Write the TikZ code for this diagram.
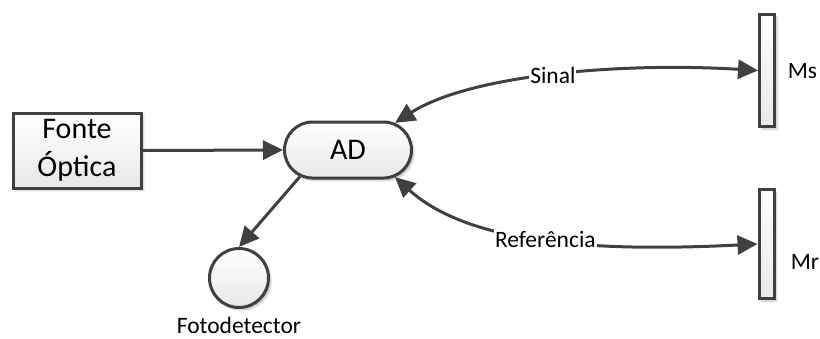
\documentclass[tikz,border=0pt]{standalone}
\usepackage{fontspec}
\setmainfont{Carlito}
\usetikzlibrary{arrows.meta,shapes.misc,shadows.blur}
\begin{document}
\begin{tikzpicture}[x=1pt,y=-1pt,
  line width=3pt,
  ink/.style={draw=black!75},
  box/.style={ink, top color=white, bottom color=black!9,
    blur shadow={shadow xshift=2.5pt,shadow yshift=-2.5pt,shadow blur steps=4,shadow opacity=25}},
  bigtext/.style={font=\fontsize{30}{38}\selectfont},
  smalltext/.style={font=\fontsize{23.5}{28}\selectfont},
  conn/.style={draw=black!75, -{Triangle[length=20pt,width=19pt]}},
  biconn/.style={draw=black!75, {Triangle[length=20pt,width=19pt]}-{Triangle[length=20pt,width=19pt]}},
  lbl/.style={smalltext, fill=white, inner sep=1pt, text=black}]
\useasboundingbox (0,0) rectangle (820,338);

% blocks
\node[box, rectangle, minimum width=128pt, minimum height=75pt, inner sep=0pt,
      align=center, bigtext] (src) at (77,150.5) {Fonte\\Óptica};
\node[box, rounded rectangle, minimum width=127pt, minimum height=56pt,
      inner sep=0pt, bigtext] (AD) at (348,150) {AD};
\node[box, circle, minimum size=59pt, inner sep=0pt] (FD) at (239,278) {};
\node[smalltext, anchor=base] (FDlbl) at (239,333.5) {Fotodetector};

% mirrors
\node[box, rectangle, minimum width=15pt, minimum height=112pt, inner sep=0pt] (Ms) at (767,70.5) {};
\node[box, rectangle, minimum width=15pt, minimum height=109pt, inner sep=0pt] (Mr) at (766.5,244) {};
\node[smalltext, anchor=base] (Mslbl) at (802.5,78) {Ms};
\node[smalltext, anchor=base] (Mrlbl) at (805,269) {Mr};

% connectors
\draw[conn] (src.east) -- (AD.west);
\draw[conn] (AD.209) -- (FD.north);
\draw[biconn] (Ms.west) .. controls (620,62) and (470,75) .. (AD.30)
  node[lbl, pos=0.5] {Sinal};
\draw[biconn] (Mr.west) .. controls (600,252) and (470,245) .. (AD.-30)
  node[lbl, pos=0.5] {Referência};
\end{tikzpicture}
\end{document}
